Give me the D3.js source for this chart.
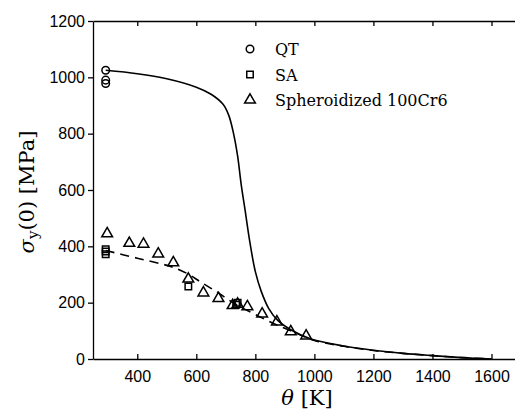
<!DOCTYPE html>
<html lang="en">
<head>
    <meta charset="UTF-8">
    <title>Yield stress vs temperature</title>
    <script src="https://d3js.org/d3.v7.min.js"></script>
    <style>
        body { margin: 0; background: #fff; }
        svg { display: block; }
        .tick text { font-family: "Liberation Sans", Arial, sans-serif; font-size: 16px; fill: #000; }
        .tick line, .domain { stroke: #000; stroke-width: 1.3; }
        .label { font-family: "DejaVu Serif", "Liberation Serif", serif; fill: #000; }
        .legend text { font-family: "DejaVu Serif", "Liberation Serif", serif; font-size: 16px; }
        .mark { fill: none; stroke: #000; stroke-width: 1.5; }
    </style>
</head>
<body>
<script>
    const width = 515;
    const height = 414;

    // measured points
    const qtTemp = [293, 293, 293];
    const qtStress = [1025, 990, 978];
    const saTemp = [293, 293, 293, 573, 735, 740];
    const saStress = [390, 382, 372, 257, 193, 200];
    const sphTemp = [298, 373, 421, 471, 522, 573, 624, 675, 723, 740, 773, 823, 873, 920, 972];
    const sphStress = [445, 411, 408, 373, 342, 284, 235, 215, 190, 195, 186, 160, 132, 97, 82];

    // model curves
    const qtModelT = [293, 400, 500, 600, 650, 690, 710, 726, 740, 752, 765, 782, 800, 820, 845, 875, 920, 986, 1100, 1200, 1300, 1400, 1500, 1600];
    const qtModelS = [1025, 1013, 995, 965, 940, 905, 865, 801, 720, 620, 530, 411, 310, 240, 180, 138, 104, 72, 46, 31, 20, 12, 5, 0];
    const saModelT = [293, 400, 480, 520, 570, 615, 670, 725, 790, 860, 920, 1000, 1100, 1200, 1300, 1400, 1500, 1600];
    const saModelS = [385, 358, 338, 326, 303, 273, 238, 200, 163, 127, 100, 66, 45, 30, 20, 12, 5, 0];

    const xTicks = [400, 600, 800, 1000, 1200, 1400, 1600];
    const yTicks = [0, 200, 400, 600, 800, 1000, 1200];
    const legendLabels = ["QT", "SA", "Spheroidized 100Cr6"];

    const svg = d3.select("body").append("svg")
        .attr("width", width).attr("height", height);

    const x = d3.scaleLinear().domain([250, 1700]).range([93, 521]);
    const y = d3.scaleLinear().domain([0, 1200]).range([359, 21]);

    // axes
    svg.append("g")
        .attr("transform", `translate(0,${y(0)})`)
        .call(d3.axisBottom(x).tickValues(xTicks).tickFormat(d3.format("d"))
            .tickSizeInner(-5).tickSizeOuter(0).tickPadding(12));
    svg.append("g")
        .attr("transform", `translate(0,${y(1200)})`)
        .call(d3.axisTop(x).tickValues(xTicks).tickSizeInner(-5).tickSizeOuter(0).tickFormat(""));
    svg.append("g")
        .attr("transform", `translate(${x(250)},0)`)
        .call(d3.axisLeft(y).tickValues(yTicks).tickFormat(d3.format("d"))
            .tickSizeInner(5).tickSizeOuter(0).tickPadding(3));

    // model lines
    const line = d3.line().x(d => x(d[0])).y(d => y(d[1])).curve(d3.curveCatmullRom.alpha(0.5));
    svg.append("path")
        .datum(d3.zip(qtModelT, qtModelS))
        .attr("d", line)
        .attr("fill", "none").attr("stroke", "#000").attr("stroke-width", 1.6);
    svg.append("path")
        .datum(d3.zip(saModelT, saModelS))
        .attr("d", line)
        .attr("fill", "none").attr("stroke", "#000").attr("stroke-width", 1.6)
        .attr("stroke-dasharray", "9,6");

    // markers
    const circle = d3.symbol().type(d3.symbolCircle).size(45);
    const square = d3.symbol().type(d3.symbolSquare).size(42);
    const triangle = d3.symbol().type(d3.symbolTriangle).size(50);

    svg.selectAll("path.qt")
        .data(d3.zip(qtTemp, qtStress))
        .enter().append("path")
        .attr("class", "mark qt")
        .attr("d", circle)
        .attr("transform", d => `translate(${x(d[0])},${y(d[1])})`);
    svg.selectAll("path.sa")
        .data(d3.zip(saTemp, saStress))
        .enter().append("path")
        .attr("class", "mark sa")
        .attr("d", square)
        .attr("transform", d => `translate(${x(d[0])},${y(d[1])})`);
    svg.selectAll("path.sph")
        .data(d3.zip(sphTemp, sphStress))
        .enter().append("path")
        .attr("class", "mark sph")
        .attr("d", triangle)
        .attr("transform", d => `translate(${x(d[0])},${y(d[1])})`);

    // legend
    const legend = svg.append("g").attr("class", "legend");
    const shapes = [circle, square, triangle];
    legendLabels.forEach(function(lab, i) {
        const ly = 49 + i * 25.5;
        legend.append("path").attr("class", "mark").attr("d", shapes[i])
            .attr("transform", `translate(250,${ly})`);
        legend.append("text").attr("x", 275).attr("y", ly + 6).text(lab);
    });

    // axis labels
    const xl = svg.append("text").attr("class", "label")
        .attr("x", 307).attr("y", 405).attr("text-anchor", "middle")
        .style("font-size", "21px");
    xl.append("tspan").style("font-style", "italic").text("θ");
    xl.append("tspan").text(" [K]");

    const yl = svg.append("text").attr("class", "label")
        .attr("transform", "translate(34,192) rotate(-90)")
        .attr("text-anchor", "middle")
        .style("font-size", "21px");
    yl.append("tspan").style("font-style", "italic").text("σ");
    yl.append("tspan").attr("baseline-shift", "-25%").style("font-size", "15px").text("y");
    yl.append("tspan").text("(0) [MPa]");
</script>
</body>
</html>
